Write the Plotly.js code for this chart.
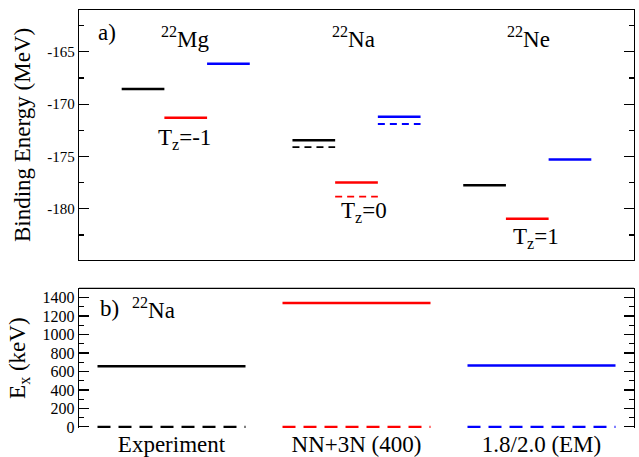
<!DOCTYPE html>
<html>
<head>
<meta charset="utf-8">
<script src="https://cdn.plot.ly/plotly-3.0.1.min.js"></script>
<style>html,body{margin:0;padding:0;background:#fff;}#chart{width:639px;height:457px;}</style>
</head>
<body>
<div id="chart"></div>
<script>
// ---- data ----
const nuclei = ['22Mg', '22Na', '22Ne'];
const nucleusLabels = ['<sup>22</sup>Mg', '<sup>22</sup>Na', '<sup>22</sup>Ne'];
const tzLabels = ['T<sub>z</sub>=-1', 'T<sub>z</sub>=0', 'T<sub>z</sub>=1'];
const methods = ['Experiment', 'NN+3N (400)', '1.8/2.0 (EM)'];
const methodColors = ['#000000', '#ff0000', '#0000ff'];
// binding energies (MeV) of the T=1, 0+ states, per method, per nucleus (Mg, Na, Ne)
const bindingExp = [-168.55, -173.45, -177.75];
const bindingNN3N = [-171.3, -177.5, -180.95];
const bindingEM = [-166.15, -171.2, -175.3];
// 22Na ground state binding energy (dashed), per method
const na22Ground = [-174.1, -178.85, -171.9];
// 22Na excitation energy (keV) of 0+ state, per method; ground at 0
const na22Ex = [657, 1340, 665];
const na22ExGround = [0, 0, 0];
const yTicks = [-165, -170, -175, -180];
const yMinorTicks = [-162.5, -167.5, -172.5, -177.5, -182.5];

const binding = [bindingExp, bindingNN3N, bindingEM];
const FONT = 'Liberation Serif, Times New Roman, serif';

const traces = [];
for (let m = 0; m < methods.length; m++) {
  for (let n = 0; n < nuclei.length; n++) {
    const x0 = 4 * n + m + 1;
    traces.push({x: [x0, x0 + 1], y: [binding[m][n], binding[m][n]], mode: 'lines',
      line: {color: methodColors[m], width: 2.5}, xaxis: 'x', yaxis: 'y', hoverinfo: 'skip'});
    if (nuclei[n] === '22Na') {
      traces.push({x: [x0, x0 + 1], y: [na22Ground[m], na22Ground[m]], mode: 'lines',
        line: {color: methodColors[m], width: 1.8, dash: '7px,5px'}, xaxis: 'x', yaxis: 'y', hoverinfo: 'skip'});
    }
  }
  traces.push({x: [m + 0.1, m + 0.9], y: [na22Ex[m], na22Ex[m]], mode: 'lines',
    line: {color: methodColors[m], width: 2.5}, xaxis: 'x2', yaxis: 'y2', hoverinfo: 'skip'});
  traces.push({x: [m + 0.1, m + 0.9], y: [na22ExGround[m], na22ExGround[m]], mode: 'lines',
    line: {color: methodColors[m], width: 2.5, dash: '13px,8px'}, xaxis: 'x2', yaxis: 'y2', hoverinfo: 'skip'});
}

const annotations = [
  {text: 'a)', x: 0.65, y: -163.15, xref: 'x', yref: 'y', showarrow: false, font: {size: 23}},
  {text: 'b)', x: 0.165, y: 1284, xref: 'x2', yref: 'y2', showarrow: false, font: {size: 23}},
  {text: '<sup>22</sup>Na', x: 0.40, y: 1284, xref: 'x2', yref: 'y2', showarrow: false, font: {size: 23}}
];
const nucX = [2.49, 6.42, 10.52];
const tzX = [2.46, 6.68, 10.7];
const tzY = [-173.3, -180.27, -182.77];
for (let n = 0; n < nuclei.length; n++) {
  annotations.push({text: nucleusLabels[n], x: nucX[n], y: -163.6, xref: 'x', yref: 'y', showarrow: false, font: {size: 23}});
  annotations.push({text: tzLabels[n], x: tzX[n], y: tzY[n], xref: 'x', yref: 'y', showarrow: false, font: {size: 23}});
}

const layout = {
  width: 639, height: 457,
  margin: {l: 79, r: 5, t: 10, b: 29},
  paper_bgcolor: '#fff', plot_bgcolor: '#fff',
  showlegend: false,
  font: {family: FONT, color: '#000', size: 14},
  xaxis: {domain: [0, 1], range: [0, 13], showgrid: false, zeroline: false, showticklabels: false,
    ticks: '', showline: true, mirror: true, linecolor: '#000', linewidth: 1.2, anchor: 'y'},
  yaxis: {domain: [0.4019, 1], range: [-184.9, -161], showgrid: false, zeroline: false,
    tickvals: yTicks, ticktext: yTicks.map(v => String(v)), ticks: 'inside', ticklen: 10, tickwidth: 1.2,
    tickcolor: '#000', showline: true, mirror: 'ticks', linecolor: '#000', linewidth: 1.2,
    tickfont: {size: 15, family: FONT}, anchor: 'x',
    minor: {tickvals: yMinorTicks, ticks: 'inside', ticklen: 5, tickwidth: 1.2, tickcolor: '#000', showgrid: false},
    title: {text: 'Binding Energy (MeV)', font: {size: 23, family: FONT}, standoff: 10}},
  xaxis2: {domain: [0, 1], range: [0, 3], showgrid: false, zeroline: false, showline: false,
    tickvals: [0.5, 1.5, 2.5], ticktext: methods, ticks: '', tickfont: {size: 23, family: FONT}, anchor: 'y2'},
  yaxis2: {domain: [0, 0.3342], range: [-12, 1500], showgrid: false, zeroline: false,
    tick0: 0, dtick: 200, ticks: 'inside', ticklen: 10, tickwidth: 1.2, tickcolor: '#000',
    showline: true, mirror: 'ticks', linecolor: '#000', linewidth: 1.2,
    tickfont: {size: 16, family: FONT}, anchor: 'x2',
    minor: {tick0: 0, dtick: 100, ticks: 'inside', ticklen: 5, tickwidth: 1.2, tickcolor: '#000', showgrid: false},
    title: {text: 'E<sub>x</sub> (keV)', font: {size: 23, family: FONT}, standoff: 10}},
  shapes: [
    {type: 'line', xref: 'x2 domain', yref: 'y2 domain', x0: 0, x1: 1, y0: 1, y1: 1, line: {color: '#000', width: 1.2}}
  ],
  annotations: annotations
};

Plotly.newPlot('chart', traces, layout, {displayModeBar: false, staticPlot: true});
</script>
</body>
</html>
